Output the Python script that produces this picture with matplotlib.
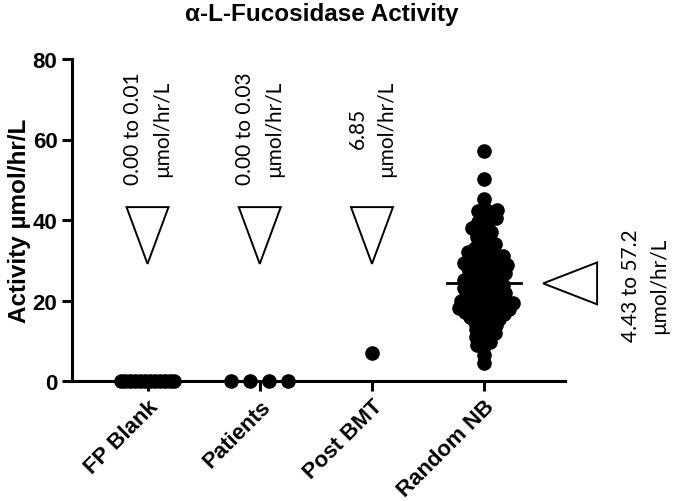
import numpy as np
import matplotlib
matplotlib.use("Agg")
import matplotlib.pyplot as plt
from matplotlib.patches import Polygon

# data
groups = ["FP Blank", "Patients", "Post BMT", "Random NB"]
fp_blank = [0.00, 0.00, 0.00, 0.01, 0.00, 0.00, 0.00, 0.01, 0.00, 0.00, 0.00, 0.00]
patients = [0.00, 0.03, 0.01, 0.00]
post_bmt = [6.85]
random_nb = [57.2, 50.2, 45.2, 43.1, 42.6, 42.2, 41.9, 41.3, 40.6, 40.1,
             39.4, 38.8, 38.0, 37.5, 37.0, 36.4, 35.8, 35.3, 34.7, 34.1,
             33.6, 33.0, 32.6, 32.1, 31.8, 31.3, 31.0, 30.9, 30.5, 30.1,
             29.8, 29.4, 29.2, 29.0, 28.7, 28.3, 28.0, 27.8, 27.6, 27.2,
             26.9, 26.5, 26.3, 26.1, 25.8, 25.4, 25.1, 24.8, 24.6, 24.4,
             24.1, 23.8, 23.5, 23.2, 22.9, 22.6, 22.4, 22.2, 21.9, 21.5,
             21.2, 21.0, 20.8, 20.5, 20.2, 19.9, 19.6, 19.3, 19.2, 19.0,
             18.9, 18.7, 18.4, 18.1, 17.8, 17.6, 17.5, 17.2, 16.9, 16.6,
             16.4, 16.2, 15.9, 15.5, 15.1, 14.7, 14.3, 13.9, 13.4, 12.9,
             12.6, 12.0, 11.4, 10.9, 10.3, 9.6, 8.9, 8.6, 6.5, 4.43]
range_labels = ["0.00 to 0.01\nµmol/hr/L", "0.00 to 0.03\nµmol/hr/L",
                "6.85\nµmol/hr/L", "4.43 to 57.2\nµmol/hr/L"]

W, H = 675, 502
fig = plt.figure(figsize=(W / 100, H / 100), dpi=100)
ax = fig.add_axes([72 / W, 1 - 382 / H, (565 - 72) / W, (382 - 60) / H])
xlim = (-0.673, 3.72)
ylim = (0, 80)
ax.set_xlim(*xlim)
ax.set_ylim(*ylim)

# pixel scale, used to lay out the swarm
px_x = (565 - 72) / (xlim[1] - xlim[0])
px_y = (382 - 60) / (ylim[1] - ylim[0])


def swarm(vals, dmin):
    # simple beeswarm in pixel space
    ys = np.array(vals) * px_y
    xs = np.zeros(len(vals))
    placed = []
    for i in np.argsort(vals):
        iv = []
        for xj, yj in placed:
            dy = abs(ys[i] - yj)
            if dy < dmin:
                w = np.sqrt(dmin ** 2 - dy ** 2)
                iv.append((xj - w, xj + w))
        cands = [0.0] + [a for a, b in iv] + [b for a, b in iv]
        cands.sort(key=abs)
        for c in cands:
            if all(not (a + 1e-6 < c < b - 1e-6) for a, b in iv):
                xs[i] = c
                break
        placed.append((xs[i], ys[i]))
    return xs / px_x


ms = 9.5
dot = dict(marker="o", color="black", markersize=ms, linestyle="none", clip_on=False, zorder=3)
ax.plot(0 + np.linspace(-0.24, 0.24, len(fp_blank)), fp_blank, **dot)
ax.plot(1 + np.linspace(-0.255, 0.255, len(patients)), patients, **dot)
ax.plot(2 + np.zeros(len(post_bmt)), post_bmt, **dot)
ax.plot(3 + swarm(random_nb, 7.0), random_nb, **dot)

med = np.median(random_nb)
ax.plot([3 - 0.33, 3 + 0.33], [med, med], color="black", lw=2, zorder=4)

# open triangles + range text
ann = dict(rotation=90, ha="center", va="center", multialignment="center",
           fontsize=15, family="Lato", linespacing=1.55)
for i in range(3):
    tri = Polygon([(i - 0.187, 43.2), (i + 0.187, 43.2), (i, 29.1)], closed=True,
                  fill=False, edgecolor="black", lw=1.4)
    ax.add_patch(tri)
    ax.text(i, 63, range_labels[i], **ann)
tri = Polygon([(3.525, med), (4.006, med + 5.2), (4.006, med - 5.2)], closed=True,
              fill=False, edgecolor="black", lw=1.4, clip_on=False)
ax.add_patch(tri)
ax.text(4.434, 24, range_labels[3], clip_on=False, **ann)

for s in ["top", "right"]:
    ax.spines[s].set_visible(False)
for s in ["left", "bottom"]:
    ax.spines[s].set_linewidth(2.2)
ax.tick_params(width=2.2, length=7)
ax.set_yticks([0, 20, 40, 60, 80])
ax.set_xticks(range(len(groups)))
ax.set_xticklabels(groups, rotation=45, ha="right", rotation_mode="anchor",
                   fontsize=16, fontweight="bold", family="Liberation Sans")
for t in ax.get_yticklabels():
    t.set_fontsize(16)
    t.set_fontweight("bold")
    t.set_family("Liberation Sans")

ax.set_ylabel("Activity µmol/hr/L", fontsize=17.5, fontweight="bold", family="Liberation Sans", labelpad=1)
fig.text(322 / W, 1 - 14 / H, "α-L-Fucosidase Activity", ha="center", va="center",
         fontsize=17.5, fontweight="bold", family="Liberation Sans")

fig.savefig("out.png", dpi=100)
